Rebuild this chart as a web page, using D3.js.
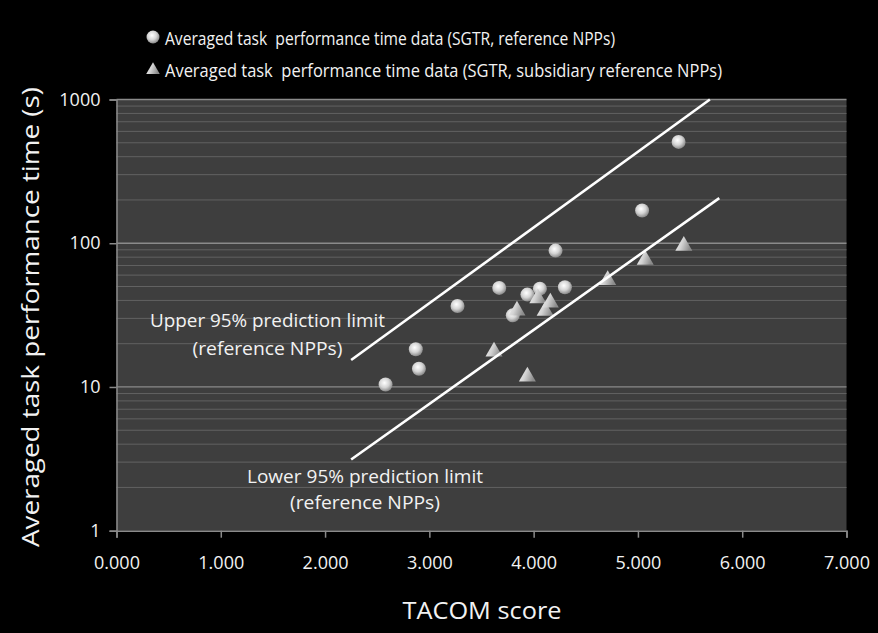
<!DOCTYPE html>
<html>
<head>
<meta charset="utf-8">
<script src="https://cdn.jsdelivr.net/npm/d3@7"></script>
<style>
  html, body { margin: 0; padding: 0; background: #000; }
  svg { display: block; }
  text { font-family: "Comic Sans MS", "Open Sans", "DejaVu Sans", sans-serif; fill: #f2f2f2; }
</style>
</head>
<body>
<div id="viz"></div>
<script>
// reference NPPs (circles)
const refScore = [2.58, 2.87, 2.90, 3.27, 3.67, 3.80, 3.94, 4.06, 4.21, 4.30, 5.04, 5.39];
const refTime = [10.4, 18.3, 13.4, 36.6, 48.9, 31.5, 43.9, 48.3, 88.9, 49.4, 169, 507];
// subsidiary reference NPPs (triangles)
const subScore = [3.62, 3.84, 3.94, 4.04, 4.11, 4.16, 4.71, 5.07, 5.44];
const subTime = [17.6, 34.0, 11.8, 41.4, 33.8, 38.6, 55.5, 76.5, 95.8];
// 95% prediction limits, end points [score, time]
const upperLimit = [[2.25, 15.4], [5.69, 1000]];
const lowerLimit = [[2.25, 3.13], [5.78, 206]];
const xTicks = [0, 1, 2, 3, 4, 5, 6, 7];
const yTicks = [1, 10, 100, 1000];
const legendLabels = [
    'Averaged task  performance time data (SGTR, reference NPPs)',
    'Averaged task  performance time data (SGTR, subsidiary reference NPPs)'
];

const width = 878, height = 633;
const margin = {top: 99.5, right: 31.5, bottom: 102.3, left: 116.5};

const svg = d3.select('#viz')
    .append('svg')
    .attr('width', width)
    .attr('height', height);

svg.append('rect').attr('width', width).attr('height', height).attr('fill', '#000');

const defs = svg.append('defs');
const ball = defs.append('radialGradient').attr('id', 'ball')
    .attr('cx', '0.42').attr('cy', '0.38').attr('r', '0.62');
ball.append('stop').attr('offset', '0%').attr('stop-color', '#ffffff');
ball.append('stop').attr('offset', '55%').attr('stop-color', '#d4d4d4');
ball.append('stop').attr('offset', '100%').attr('stop-color', '#8a8a8a');
const tri = defs.append('linearGradient').attr('id', 'tri')
    .attr('x1', '0').attr('y1', '0').attr('x2', '1').attr('y2', '0.3');
tri.append('stop').attr('offset', '0%').attr('stop-color', '#f4f4f4');
tri.append('stop').attr('offset', '50%').attr('stop-color', '#d2d2d2');
tri.append('stop').attr('offset', '100%').attr('stop-color', '#8c8c8c');

const x = d3.scaleLinear()
    .domain([0, 7])
    .range([margin.left, width - margin.right]);

const y = d3.scaleLog()
    .domain([1, 1000])
    .range([height - margin.bottom, margin.top]);

// plot area
svg.append('rect')
    .attr('x', x(0)).attr('y', y(1000))
    .attr('width', x(7) - x(0)).attr('height', y(1) - y(1000))
    .attr('fill', '#3e3e3e');

// minor + major gridlines
const minor = y.ticks().filter(d => !yTicks.includes(d));
svg.append('g').selectAll('line')
    .data(minor)
    .enter().append('line')
    .attr('x1', x(0)).attr('x2', x(7))
    .attr('y1', d => y(d)).attr('y2', d => y(d))
    .attr('stroke', '#626262').attr('stroke-width', 1);
svg.append('g').selectAll('line')
    .data(yTicks.slice(1))
    .enter().append('line')
    .attr('x1', x(0)).attr('x2', x(7))
    .attr('y1', d => y(d)).attr('y2', d => y(d))
    .attr('stroke', '#8a8a8a').attr('stroke-width', 1.3);

// axes
const xAxis = d3.axisBottom(x).tickValues(xTicks).tickFormat(d3.format('.3f')).tickSize(7).tickPadding(19);
const yAxis = d3.axisLeft(y).tickValues(yTicks).tickFormat(d3.format('d')).tickSize(7).tickPadding(9);

const xg = svg.append('g').attr('transform', `translate(0,${y(1)})`).call(xAxis);
const yg = svg.append('g').attr('transform', `translate(${x(0)},0)`).call(yAxis);
[xg, yg].forEach(g => {
    g.selectAll('path').attr('stroke', '#8a8a8a').attr('stroke-width', 1.5);
    g.selectAll('line').attr('stroke', '#8a8a8a').attr('stroke-width', 1.5);
    g.selectAll('text').attr('fill', '#f2f2f2').style('font-size', '18px')
        .style('font-family', '"Comic Sans MS", "Open Sans", sans-serif');
});

// data points
svg.append('g').selectAll('circle')
    .data(refScore)
    .enter().append('circle')
    .attr('cx', d => x(d))
    .attr('cy', (d, i) => y(refTime[i]))
    .attr('r', 7)
    .attr('fill', 'url(#ball)');

const triPath = d3.symbol().type(d3.symbolTriangle).size(125);
svg.append('g').selectAll('path')
    .data(subScore)
    .enter().append('path')
    .attr('d', triPath)
    .attr('transform', (d, i) => `translate(${x(d)},${y(subTime[i])})`)
    .attr('fill', 'url(#tri)');

// prediction limit lines
const line = d3.line().x(d => x(d[0])).y(d => y(d[1]));
[upperLimit, lowerLimit].forEach(l => {
    svg.append('path')
        .attr('d', line(l))
        .attr('stroke', '#ffffff')
        .attr('stroke-width', 2.6)
        .attr('fill', 'none');
});

// annotations
function label(txt, cx, cy, len, size) {
    svg.append('text')
        .attr('x', cx).attr('y', cy)
        .attr('text-anchor', 'middle')
        .attr('dominant-baseline', 'central')
        .attr('textLength', len)
        .attr('lengthAdjust', 'spacingAndGlyphs')
        .style('font-size', size + 'px')
        .text(txt);
}
label('Upper 95% prediction limit', 267.5, 320, 235, 18);
label('(reference NPPs)', 267.5, 348, 150, 18);
label('Lower 95% prediction limit', 365, 476, 236, 18);
label('(reference NPPs)', 365, 502, 150, 18);

// axis titles
label('TACOM score', 482, 610, 159, 23);
svg.append('text')
    .attr('transform', 'translate(30,317) rotate(-90)')
    .attr('text-anchor', 'middle')
    .attr('dominant-baseline', 'central')
    .attr('textLength', 460)
    .attr('lengthAdjust', 'spacingAndGlyphs')
    .style('font-size', '23px')
    .text('Averaged task performance time (s)');

// legend
const legend = svg.append('g');
legend.append('circle').attr('cx', 153).attr('cy', 37).attr('r', 6.5).attr('fill', 'url(#ball)');
legend.append('path').attr('d', d3.symbol().type(d3.symbolTriangle).size(80))
    .attr('transform', 'translate(153,70)').attr('fill', 'url(#tri)');
legend.selectAll('text')
    .data(legendLabels)
    .enter().append('text')
    .attr('x', 165)
    .attr('y', (d, i) => 38 + i * 32)
    .attr('dominant-baseline', 'central')
    .attr('textLength', (d, i) => i === 0 ? 450 : 557)
    .attr('lengthAdjust', 'spacingAndGlyphs')
    .style('font-size', '18px')
    .style('white-space', 'pre')
    .text(d => d);
</script>
</body>
</html>
